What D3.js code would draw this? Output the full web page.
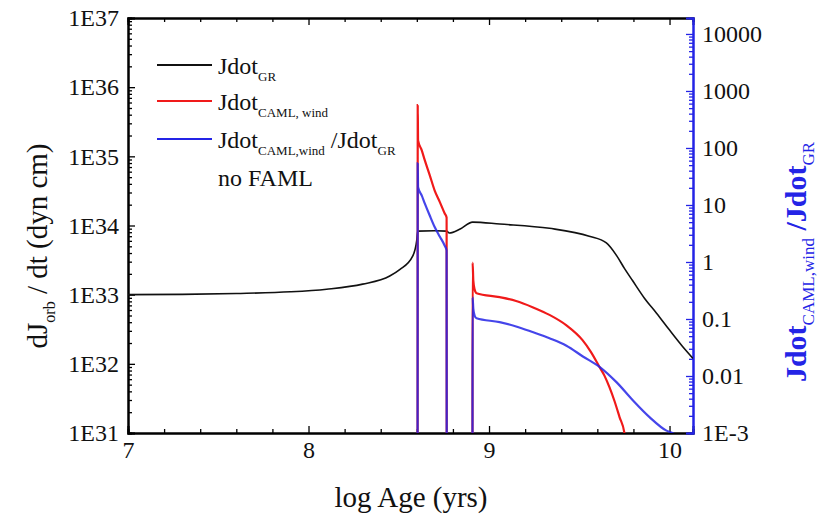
<!DOCTYPE html>
<html>
<head>
<meta charset="utf-8">
<script src="https://cdn.jsdelivr.net/npm/d3@7"></script>
<style>
  body { margin: 0; background: #fff; }
  svg text { font-family: "Liberation Serif", "DejaVu Serif", "Times New Roman", Times, serif; }
</style>
</head>
<body>
<div id="chart"></div>
<script>
// ---- data ----
var ageGR = [7.0, 7.3, 7.6, 7.9, 8.1, 8.3, 8.45, 8.505, 8.577, 8.60, 8.605, 8.70, 8.765, 8.78, 8.84, 8.909, 9.06, 9.335, 9.555, 9.65, 9.706, 9.75, 9.795, 9.861, 9.928, 9.999, 10.071, 10.13];
var jdotGR = [1.0e33, 1.01e33, 1.04e33, 1.1e33, 1.2e33, 1.42e33, 1.86e33, 2.3e33, 3.6e33, 6.2e33, 8.3e33, 8.4e33, 8.3e33, 7.8e33, 8.9e33, 1.12e34, 1.05e34, 9.1e33, 7.0e33, 5.6e33, 3.7e33, 2.4e33, 1.6e33, 8.9e32, 5.4e32, 3.1e32, 1.8e32, 1.2e32];

var ageCAML = [8.604, 8.605, 8.607, 8.627, 8.644, 8.671, 8.699, 8.727, 8.754, 8.765, 8.766, 8.908, 8.909, 8.913, 8.92, 8.931, 9.059, 9.15, 9.241, 9.335, 9.429, 9.518, 9.565, 9.612, 9.64, 9.667, 9.695, 9.723, 9.75, 9.77];
var jdotCAML = [1e29, 5.5e35, 1.7e35, 1.23e35, 8.8e34, 5.4e34, 3.2e34, 2.2e34, 1.5e34, 1.3e34, 1e29, 1e29, 2.9e33, 1.6e33, 1.2e33, 1.05e33, 9.2e32, 8.1e32, 6.6e32, 5.1e32, 3.6e32, 2.2e32, 1.48e32, 9.0e31, 6.7e31, 4.6e31, 2.9e31, 1.7e31, 1.0e31, 3e30];

var ageRatio = [8.604, 8.605, 8.607, 8.627, 8.644, 8.671, 8.699, 8.727, 8.754, 8.765, 8.766, 8.908, 8.909, 8.913, 8.92, 8.931, 9.059, 9.15, 9.241, 9.335, 9.429, 9.52, 9.612, 9.706, 9.795, 9.889, 9.983, 10.016, 10.06];
var ratio = [1e-5, 54, 20.4, 14.7, 10.7, 6.6, 4.1, 2.8, 1.95, 1.6, 1e-5, 1e-5, 0.24, 0.15, 0.115, 0.103, 0.088, 0.074, 0.059, 0.046, 0.034, 0.022, 0.0145, 0.0078, 0.0038, 0.0019, 0.0011, 0.001, 0.0008];

var xMajor = [7, 8, 9, 10];
var leftMajor = [1e31, 1e32, 1e33, 1e34, 1e35, 1e36, 1e37];
var leftLabels = ["1E31", "1E32", "1E33", "1E34", "1E35", "1E36", "1E37"];
var rightMajor = [1e-3, 1e-2, 1e-1, 1, 10, 100, 1000, 10000];
var rightLabels = ["1E-3", "0.01", "0.1", "1", "10", "100", "1000", "10000"];

// ---- layout ----
var W = 819, H = 522;
var m = { left: 128, top: 18, right: 126, bottom: 89 };
var pw = W - m.left - m.right, ph = H - m.top - m.bottom;

var blue = "#2424e6", red = "#f01a1a";
var serif = "'Liberation Serif', 'DejaVu Serif', 'Times New Roman', serif";

var x = d3.scaleLinear().domain([7, 10.13]).range([0, pw]);
var yL = d3.scaleLog().domain([1e31, 1e37]).range([ph, 0]);
var yR = d3.scaleLog().domain([1e-3, Math.pow(10, 4.28)]).range([ph, 0]);

var svg = d3.select("#chart").append("svg")
    .attr("width", W).attr("height", H);

svg.append("defs").append("clipPath").attr("id", "clip")
    .append("rect").attr("width", pw).attr("height", ph);

var g = svg.append("g").attr("transform", "translate(" + m.left + "," + m.top + ")");

// minor tick lists
function logMinors(scale) {
    var d = scale.domain(), out = [];
    var e0 = Math.floor(Math.log10(d[0])), e1 = Math.ceil(Math.log10(d[1]));
    for (var e = e0; e <= e1; e++) {
        for (var k = 2; k <= 9; k++) {
            var v = k * Math.pow(10, e);
            if (v > d[0] && v < d[1]) out.push(v);
        }
    }
    return out;
}
var xMinor = d3.range(7.2, 10.13, 0.2).filter(function(v) { return Math.abs(v - Math.round(v)) > 0.01; });

// ---- axes ----
// bottom
g.append("g").attr("class", "ax").attr("transform", "translate(0," + ph + ")")
    .call(d3.axisBottom(x).tickValues(xMinor).tickSize(-4).tickFormat(""));
g.append("g").attr("class", "ax lbl").attr("transform", "translate(0," + ph + ")")
    .call(d3.axisBottom(x).tickValues(xMajor).tickSize(-7).tickPadding(8).tickFormat(d3.format("d")));
// top
g.append("g").attr("class", "ax")
    .call(d3.axisTop(x).tickValues(xMinor).tickSize(-4).tickFormat(""));
g.append("g").attr("class", "ax")
    .call(d3.axisTop(x).tickValues(xMajor).tickSize(-7).tickFormat(""));
// left
g.append("g").attr("class", "ax")
    .call(d3.axisLeft(yL).tickValues(logMinors(yL)).tickSize(-4).tickFormat(""));
g.append("g").attr("class", "ax lbl")
    .call(d3.axisLeft(yL).tickValues(leftMajor).tickSize(-7).tickPadding(9)
        .tickFormat(function(d, i) { return leftLabels[i]; }));
// right (blue)
g.append("g").attr("class", "ax blue").attr("transform", "translate(" + pw + ",0)")
    .call(d3.axisRight(yR).tickValues(logMinors(yR)).tickSize(-4).tickFormat(""));
g.append("g").attr("class", "ax blue lbl").attr("transform", "translate(" + pw + ",0)")
    .call(d3.axisRight(yR).tickValues(rightMajor).tickSize(-7).tickPadding(9)
        .tickFormat(function(d, i) { return rightLabels[i]; }));

g.selectAll(".ax").attr("font-family", serif);
g.selectAll(".ax path").attr("stroke-width", 2);
g.selectAll(".ax line").attr("stroke-width", 1.3);
g.selectAll(".blue path, .blue line").attr("stroke", blue);
g.selectAll(".lbl text").attr("font-size", 24).attr("fill", "#111");

// ---- lines ----
var lineL = d3.line().curve(d3.curveMonotoneX)
    .x(function(d) { return x(d[0]); }).y(function(d) { return yL(d[1]); });
var lineR = d3.line().curve(d3.curveMonotoneX)
    .x(function(d) { return x(d[0]); }).y(function(d) { return yR(d[1]); });

var plot = g.append("g").attr("clip-path", "url(#clip)");

plot.append("path")
    .datum(d3.zip(ageGR, jdotGR))
    .attr("d", lineL)
    .attr("fill", "none").attr("stroke", "#111").attr("stroke-width", 1.6);

plot.append("path")
    .datum(d3.zip(ageCAML, jdotCAML))
    .attr("d", lineL)
    .attr("fill", "none").attr("stroke", red).attr("stroke-width", 2.2);

plot.append("path")
    .datum(d3.zip(ageRatio, ratio))
    .attr("d", lineR)
    .attr("fill", "none").attr("stroke", blue).attr("stroke-width", 2.2)
    .attr("stroke-opacity", 0.85);

// ---- legend ----
var legend = [
    { color: "#111", main: "Jdot", sub: "GR", y: 65 },
    { color: red, main: "Jdot", sub: "CAML, wind", y: 101 },
    { color: blue, main: "Jdot", sub: "CAML,wind", tail: " /Jdot", sub2: "GR", y: 139 }
];
legend.forEach(function(l) {
    svg.append("line").attr("x1", 157).attr("x2", 212).attr("y1", l.y).attr("y2", l.y)
        .attr("stroke", l.color).attr("stroke-width", 2);
    var t = svg.append("text").attr("x", 218).attr("y", l.y + 9)
        .attr("font-size", 24).attr("fill", "#111");
    t.append("tspan").text(l.main);
    t.append("tspan").attr("dy", 7).attr("font-size", 13).text(l.sub);
    if (l.tail) {
        t.append("tspan").attr("dy", -7).attr("font-size", 24).text(l.tail);
        t.append("tspan").attr("dy", 7).attr("font-size", 13).text(l.sub2);
    }
});
svg.append("text").attr("x", 218).attr("y", 186).attr("font-size", 24)
    .attr("fill", "#111").text("no FAML");

// ---- axis titles ----
svg.append("text").attr("x", 411).attr("y", 507).attr("text-anchor", "middle")
    .attr("font-size", 29).attr("fill", "#111").text("log Age (yrs)");

var lt = svg.append("text").attr("transform", "translate(47,246) rotate(-90)")
    .attr("text-anchor", "middle").attr("font-size", 29).attr("fill", "#111");
lt.append("tspan").text("dJ");
lt.append("tspan").attr("dy", 8).attr("font-size", 16).text("orb");
lt.append("tspan").attr("dy", -8).text(" / dt (dyn cm)");

var rt = svg.append("text").attr("transform", "translate(806,262) rotate(-90)")
    .attr("text-anchor", "middle").attr("font-size", 30).attr("font-weight", "bold").attr("fill", blue);
rt.append("tspan").text("Jdot");
rt.append("tspan").attr("dy", 8).attr("font-size", 17).attr("font-weight", "normal").text("CAML,wind");
rt.append("tspan").attr("dy", -8).text(" /Jdot");
rt.append("tspan").attr("dy", 8).attr("font-size", 17).attr("font-weight", "normal").text("GR");
</script>
</body>
</html>
